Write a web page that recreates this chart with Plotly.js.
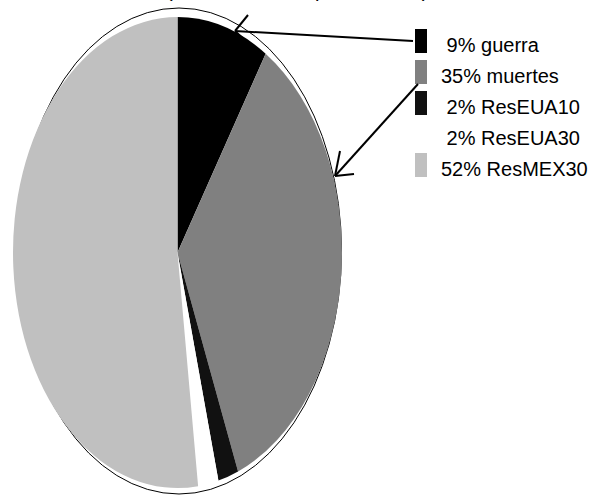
<!DOCTYPE html>
<html>
<head>
<meta charset="utf-8">
<script src="https://cdn.plot.ly/plotly-3.0.1.min.js"></script>
<style>html,body{margin:0;padding:0;background:#fff;}#chart{width:592px;height:496px;}</style>
</head>
<body>
<div id="chart"></div>
<script>
// Data
var names = ['guerra', 'muertes', 'ResEUA10', 'ResEUA30', 'ResMEX30'];
var values = [9, 35, 2, 2, 52];
var colors = ['#000000', '#808080', '#111111', '#ffffff', '#c0c0c0'];
var titleText = 'residía en los EUA en 1990 (8.85% de los supervivientes)';

var W = 592, H = 496;
function px(x) { return x / W; }
function py(y) { return 1 - y / H; }

// Pie geometry (drawn circular, then stretched vertically into an ellipse)
var cx = 177.5, cy = 252.5, rx = 164.5, ry = 235.5;

var FONT = 'Liberation Sans, Arial, sans-serif';

var shapes = [];
var annotations = [];

// outline ellipse (mostly hidden behind the pie at the sides)
shapes.push({type: 'circle', xref: 'paper', yref: 'paper', layer: 'below',
  x0: px(179 - 162.5), x1: px(179 + 162.5), y0: py(251 + 243), y1: py(251 - 243),
  line: {color: '#000', width: 1}, fillcolor: 'rgba(0,0,0,0)'});

// legend (custom) built from data arrays
for (var i = 0; i < names.length; i++) {
  var yc = 41 + 31 * i;
  if (colors[i] !== '#ffffff') {
    shapes.push({type: 'rect', xref: 'paper', yref: 'paper', layer: 'above',
      x0: px(415), x1: px(427), y0: py(yc + 12), y1: py(yc - 12),
      fillcolor: colors[i], line: {width: 0}});
  }
  var lbl = (values[i] < 10 ? '\u00a0' : '') + values[i] + '% ' + names[i];
  annotations.push({xref: 'paper', yref: 'paper', x: px(439), y: py(yc + 3.5),
    xanchor: 'left', yanchor: 'middle', showarrow: false, text: lbl,
    font: {family: FONT, size: 20, color: '#000'}});
}

// leader arrows
function seg(x0, y0, x1, y1) {
  shapes.push({type: 'line', xref: 'paper', yref: 'paper', layer: 'above',
    x0: px(x0), y0: py(y0), x1: px(x1), y1: py(y1), line: {color: '#000', width: 2}});
}
seg(413, 41, 235, 31); seg(235, 31, 248, 15); seg(235, 31, 250, 45);
seg(418, 84, 335, 176); seg(335, 176, 340, 151); seg(335, 176, 354, 174);

// title (cut off at top)
annotations.push({xref: 'paper', yref: 'paper', x: px(430), y: py(-23),
  xanchor: 'right', yanchor: 'top', showarrow: false, text: titleText,
  font: {family: FONT, size: 20, color: '#000'}});

var trace = {
  type: 'pie',
  labels: names,
  values: values,
  sort: false,
  direction: 'clockwise',
  rotation: 0,
  textinfo: 'none',
  hoverinfo: 'none',
  marker: {colors: colors, line: {width: 0}},
  domain: {x: [px(cx - rx), px(cx + rx)], y: [py(cy + rx), py(cy - rx)]},
  showlegend: false
};

var layout = {
  width: W, height: H,
  margin: {l: 0, r: 0, t: 0, b: 0},
  paper_bgcolor: '#fff',
  showlegend: false,
  shapes: shapes,
  annotations: annotations
};

Plotly.newPlot('chart', [trace], layout, {staticPlot: true}).then(function () {
  var tr = document.querySelectorAll('.pielayer .trace');
  var s = ry / rx;
  tr.forEach(function (g) {
    var bb = g.getBBox();
    var c = bb.y + bb.height / 2;
    var prev = g.getAttribute('transform') || '';
    g.setAttribute('transform', 'translate(0,' + c + ') scale(1,' + s + ') translate(0,' + (-c) + ') ' + prev);
  });
});
</script>
</body>
</html>
